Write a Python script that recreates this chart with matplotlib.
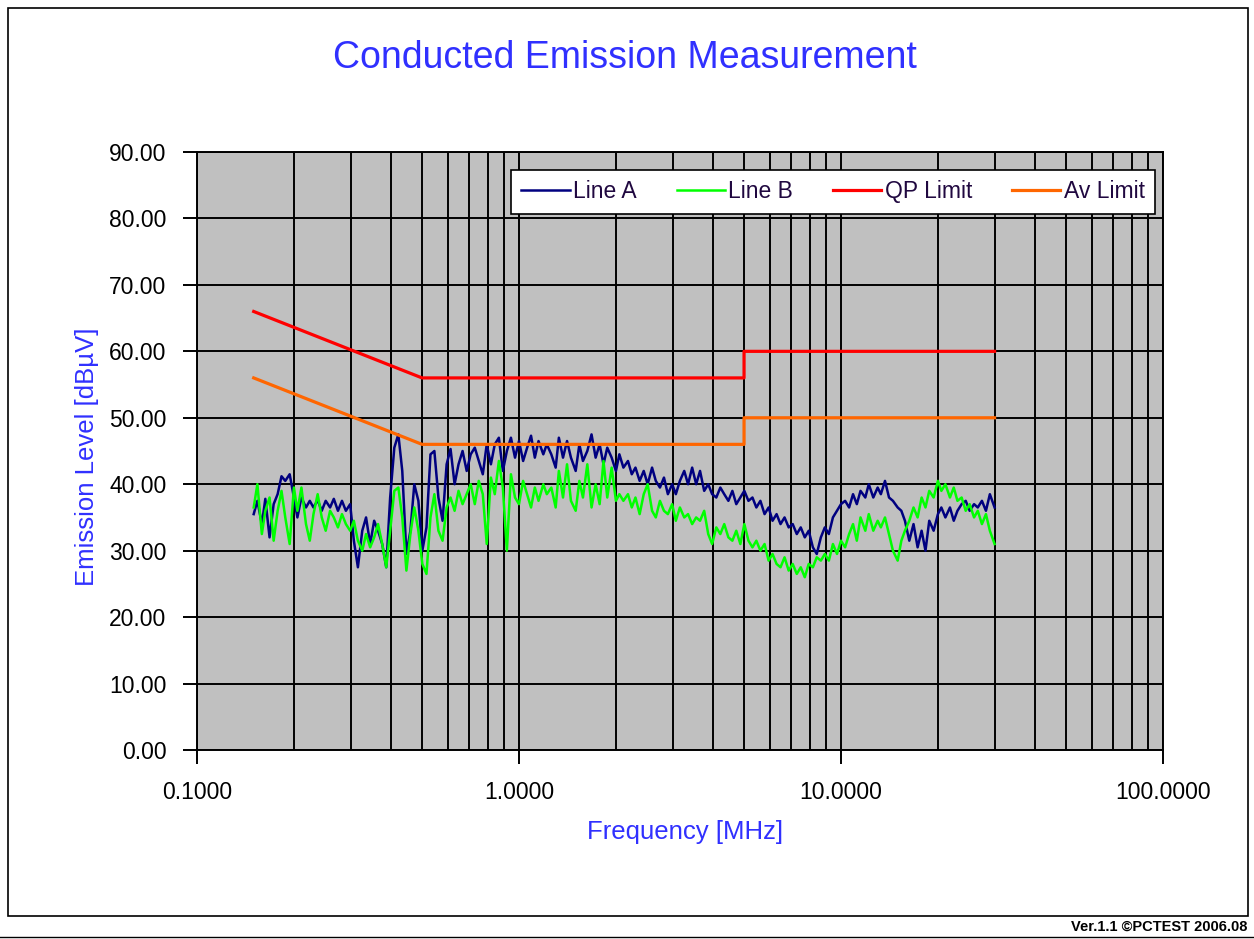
import numpy as np
import matplotlib
matplotlib.use("Agg")
import matplotlib.pyplot as plt
from matplotlib.ticker import LogLocator, FixedLocator, FormatStrFormatter, NullFormatter
from matplotlib.patches import Rectangle
from matplotlib.lines import Line2D

plt.rcParams['font.family'] = ['Liberation Sans', 'DejaVu Sans']

# measurement frequencies [MHz]
freq = [
    0.150, 0.154, 0.159, 0.163, 0.168, 0.173, 0.178, 0.183, 0.188, 0.194,
    0.200, 0.205, 0.211, 0.218, 0.224, 0.230, 0.237, 0.244, 0.251, 0.259,
    0.266, 0.274, 0.282, 0.290, 0.299, 0.307, 0.316, 0.326, 0.335, 0.345,
    0.355, 0.365, 0.376, 0.387, 0.398, 0.410, 0.422, 0.434, 0.447, 0.460,
    0.473, 0.487, 0.501, 0.516, 0.531, 0.546, 0.562, 0.579, 0.596, 0.613,
    0.631, 0.649, 0.668, 0.688, 0.708, 0.729, 0.750, 0.772, 0.794, 0.818,
    0.841, 0.866, 0.891, 0.917, 0.944, 0.972, 1.00, 1.03, 1.06, 1.09,
    1.12, 1.15, 1.19, 1.22, 1.26, 1.30, 1.33, 1.37, 1.41, 1.45,
    1.50, 1.54, 1.58, 1.63, 1.68, 1.73, 1.78, 1.83, 1.88, 1.94,
    2.00, 2.05, 2.11, 2.18, 2.24, 2.30, 2.37, 2.44, 2.51, 2.59,
    2.66, 2.74, 2.82, 2.90, 2.99, 3.07, 3.16, 3.26, 3.35, 3.45,
    3.55, 3.65, 3.76, 3.87, 3.98, 4.10, 4.22, 4.34, 4.47, 4.60,
    4.73, 4.87, 5.01, 5.16, 5.31, 5.46, 5.62, 5.79, 5.96, 6.13,
    6.31, 6.49, 6.68, 6.88, 7.08, 7.29, 7.50, 7.72, 7.94, 8.18,
    8.41, 8.66, 8.91, 9.17, 9.44, 9.72, 10.0, 10.3, 10.6, 10.9,
    11.2, 11.5, 11.9, 12.2, 12.6, 13.0, 13.3, 13.7, 14.1, 14.5,
    15.0, 15.4, 15.8, 16.3, 16.8, 17.3, 17.8, 18.3, 18.8, 19.4,
    20.0, 20.5, 21.1, 21.8, 22.4, 23.0, 23.7, 24.4, 25.1, 25.9,
    26.6, 27.4, 28.2, 29.0, 30.0,
]

# Line A level [dBuV]
line_a = [
    35.5, 37.5, 34.0, 37.8, 32.0, 37.0, 38.5, 41.2, 40.5, 41.5,
    38.0, 35.0, 38.0, 36.5, 37.5, 36.5, 37.6, 36.0, 37.5, 36.5,
    37.8, 36.0, 37.5, 36.0, 37.0, 31.5, 27.5, 33.0, 35.0, 31.0,
    34.5, 33.0, 31.0, 27.5, 38.0, 45.5, 47.5, 42.0, 29.5, 33.0,
    40.0, 37.5, 30.0, 33.5, 44.5, 45.0, 38.0, 34.5, 43.0, 45.3,
    40.0, 43.0, 45.0, 42.0, 44.5, 45.5, 43.5, 41.5, 46.0, 43.0,
    46.0, 47.0, 42.0, 45.0, 47.0, 44.0, 46.5, 43.5, 45.5, 47.3,
    44.0, 46.5, 44.5, 46.0, 44.5, 42.5, 47.0, 44.0, 46.5, 44.0,
    42.0, 46.0, 43.5, 45.0, 47.5, 44.0, 46.0, 43.0, 45.5, 44.0,
    42.0, 44.5, 42.5, 43.5, 41.5, 42.5, 40.5, 42.0, 40.0, 42.5,
    40.5, 39.5, 41.0, 38.5, 40.0, 38.5, 40.5, 42.0, 40.0, 42.5,
    40.0, 42.0, 39.0, 40.0, 38.5, 38.0, 39.5, 38.5, 37.5, 39.0,
    37.0, 38.0, 39.0, 37.5, 38.0, 36.5, 37.5, 35.5, 36.5, 34.5,
    35.5, 34.0, 35.0, 33.5, 34.0, 32.5, 33.5, 32.0, 33.0, 30.5,
    29.5, 32.0, 33.5, 32.5, 35.0, 36.0, 37.0, 37.5, 36.5, 38.5,
    37.0, 39.0, 38.0, 40.0, 38.0, 39.5, 38.5, 40.5, 38.0, 37.5,
    36.5, 36.0, 34.5, 31.5, 34.0, 30.5, 33.0, 30.0, 34.5, 33.0,
    35.5, 36.5, 35.0, 36.5, 34.5, 36.0, 37.0, 37.5, 36.0, 37.0,
    36.5, 37.5, 36.0, 38.5, 36.5,
]

# Line B level [dBuV]
line_b = [
    36.5, 40.0, 32.5, 36.0, 38.0, 31.5, 36.0, 39.0, 35.0, 31.0,
    39.5, 36.0, 39.5, 34.0, 31.5, 35.5, 38.5, 35.0, 33.0, 36.0,
    35.0, 33.5, 35.5, 34.0, 33.0, 34.5, 31.5, 30.0, 32.5, 30.5,
    32.0, 34.0, 31.0, 27.5, 33.0, 39.0, 39.5, 35.0, 27.0, 32.5,
    36.5, 33.0, 28.0, 26.5, 35.0, 38.5, 33.0, 31.5, 36.5, 38.0,
    36.0, 39.0, 37.0, 38.5, 40.0, 37.0, 40.5, 38.5, 31.0, 41.0,
    38.5, 43.5, 39.5, 30.0, 41.5, 38.0, 37.0, 40.5, 38.5, 36.5,
    39.5, 37.5, 40.0, 38.5, 39.5, 36.5, 42.0, 38.0, 43.0, 37.5,
    36.0, 40.5, 38.0, 43.0, 36.5, 40.0, 37.0, 43.5, 38.0, 42.5,
    37.5, 38.5, 37.5, 38.5, 36.5, 38.0, 35.5, 38.5, 40.0, 36.0,
    35.0, 37.5, 36.0, 35.5, 37.0, 34.5, 36.5, 35.0, 35.5, 34.0,
    35.0, 34.5, 36.0, 32.5, 31.0, 33.5, 32.5, 34.0, 32.0, 31.5,
    33.0, 31.0, 34.0, 31.5, 30.5, 31.5, 30.0, 31.0, 28.5, 29.5,
    28.0, 27.5, 29.0, 27.0, 28.0, 26.5, 27.5, 26.0, 28.0, 27.5,
    29.0, 28.5, 29.5, 28.5, 31.0, 29.5, 31.5, 30.5, 32.5, 34.0,
    31.5, 35.0, 33.0, 35.5, 33.0, 34.5, 33.5, 35.0, 32.5, 30.0,
    28.5, 31.5, 33.0, 34.5, 36.5, 35.0, 38.0, 36.5, 39.0, 38.0,
    40.5, 39.0, 40.0, 38.0, 39.5, 37.5, 38.0, 36.0, 37.0, 35.0,
    36.0, 34.0, 35.5, 33.0, 31.0,
]

# limit lines
limit_freq = [0.15, 0.5, 5.0, 5.0, 30.0]
qp_limit = [66, 56, 56, 60, 60]
av_limit = [56, 46, 46, 50, 50]

blue_text = '#3030ff'

fig = plt.figure(figsize=(12.54, 9.39), dpi=100)
ax = fig.add_axes([0.1571, 0.2013, 0.7703, 0.6368])
ax.set_facecolor('#c0c0c0')

ax.plot(freq, line_a, color='#000080', lw=1.8, label='Line A', zorder=3)
ax.plot(freq, line_b, color='#00ff00', lw=1.8, label='Line B', zorder=3)
ax.plot(limit_freq, qp_limit, color='#ff0000', lw=2.3, label='QP Limit', zorder=4)
ax.plot(limit_freq, av_limit, color='#ff6600', lw=2.3, label='Av Limit', zorder=4)

ax.set_xscale('log')
ax.set_xlim(0.1, 100)
ax.set_ylim(0, 90)
ax.xaxis.set_major_locator(FixedLocator([0.1, 1, 10, 100]))
ax.xaxis.set_minor_locator(LogLocator(base=10, subs=range(2, 10)))
ax.xaxis.set_major_formatter(FormatStrFormatter('%.4f'))
ax.xaxis.set_minor_formatter(NullFormatter())
ax.set_yticks(np.arange(0, 91, 10))
ax.yaxis.set_major_formatter(FormatStrFormatter('%.2f'))

ax.grid(True, which='both', axis='x', color='black', lw=1.4, zorder=1)
ax.grid(True, which='major', axis='y', color='black', lw=1.4, zorder=1)
ax.set_axisbelow(True)
ax.tick_params(axis='both', which='major', direction='out', length=10,
               width=1.4, labelsize=16.5, colors='black')
ax.tick_params(axis='x', which='major', pad=12)
ax.tick_params(axis='y', which='major', pad=12)
ax.tick_params(axis='x', which='minor', length=0)
for side in ['left', 'bottom', 'right', 'top']:
    ax.spines[side].set_color('black')
    ax.spines[side].set_linewidth(1.4)

ax.set_xlabel('Frequency [MHz]', fontsize=18.5, color=blue_text)
ax.set_ylabel('Emission Level [dBµV]', fontsize=18.5, color=blue_text)
ax.xaxis.set_label_coords(0.505, -0.117)
ax.yaxis.set_label_coords(-0.101, 0.49)

leg = ax.legend(loc='upper right', bbox_to_anchor=(0.992, 0.970), ncol=4,
                fontsize=16.5, frameon=True, fancybox=False, framealpha=1,
                edgecolor='black', handlelength=2.1, handletextpad=0.15,
                columnspacing=1.75, borderpad=0.45, borderaxespad=0)
leg.get_frame().set_linewidth(1.2)
for t in leg.get_texts():
    t.set_color('#200840')

fig.text(0.498, 0.938, 'Conducted Emission Measurement', fontsize=27,
         color=blue_text, ha='center', va='center')

# outer chart frame and footer
fig.add_artist(Rectangle((0.0064, 0.0245), 0.9888, 0.9670, transform=fig.transFigure,
                         fill=False, edgecolor='black', lw=1.2))
fig.add_artist(Line2D([0, 1], [0.002, 0.002], transform=fig.transFigure,
                      color='black', lw=1.0))
fig.text(0.995, 0.013, 'Ver.1.1 ©PCTEST 2006.08', fontsize=10.5, ha='right',
         va='center', color='black', fontweight='bold')

fig.savefig('out.png', dpi=100, facecolor='white')
